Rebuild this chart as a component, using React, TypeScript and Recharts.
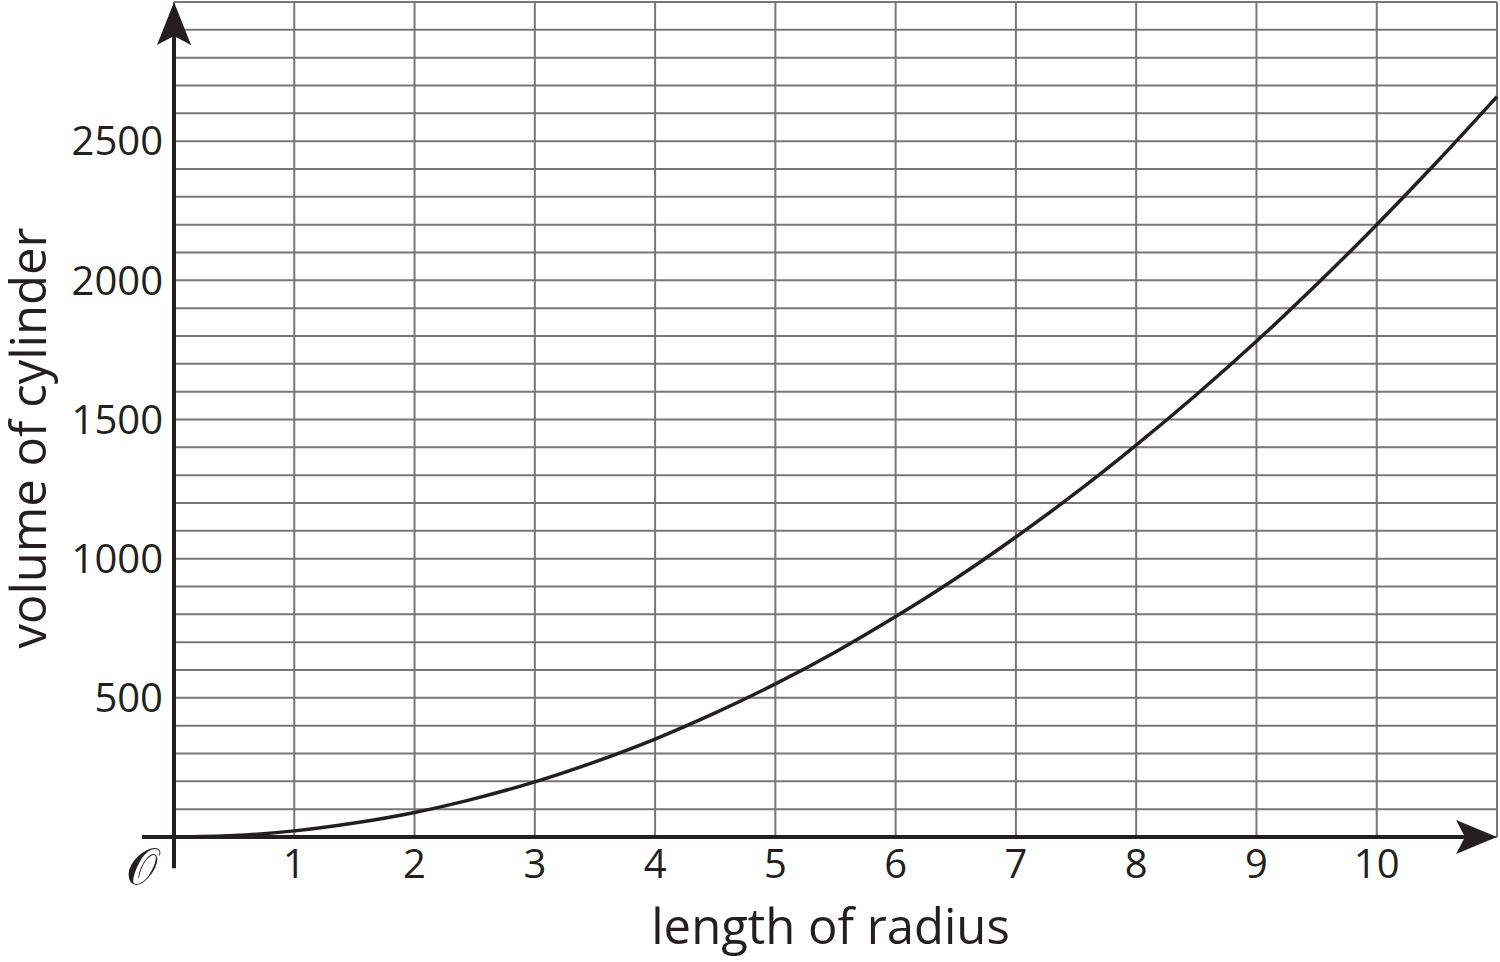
import React from 'react';
import {
  LineChart,
  Line,
  XAxis,
  YAxis,
  CartesianGrid,
  ReferenceLine,
  ReferenceDot,
} from 'recharts';

// data
const radius = [0, 0.5, 1, 1.5, 2, 2.5, 3, 3.5, 4, 4.5, 5, 5.5, 6, 6.5, 7, 7.5, 8, 8.5, 9, 9.5, 10, 10.5, 11];
const volume = [0, 5, 22, 50, 88, 138, 198, 270, 352, 446, 550, 665, 792, 929, 1078, 1237, 1408, 1589, 1781, 1985, 2200, 2425, 2660];

const xTicks = [0, 1, 2, 3, 4, 5, 6, 7, 8, 9, 10, 11];
const xLabelled = [1, 2, 3, 4, 5, 6, 7, 8, 9, 10];
const yTicks = [
  0, 100, 200, 300, 400, 500, 600, 700, 800, 900, 1000, 1100, 1200, 1300, 1400, 1500,
  1600, 1700, 1800, 1900, 2000, 2100, 2200, 2300, 2400, 2500, 2600, 2700, 2800, 2900, 3000,
];
const yLabelled = [500, 1000, 1500, 2000, 2500];

const xTitle = 'length of radius';
const yTitle = 'volume of cylinder';
const originLabel = '𝒪';

const data = radius.map((r, i) => ({ r, v: volume[i] }));

const INK = '#231f20';
const GRID = '#777777';
const FONT = '"Open Sans", sans-serif';

const XTick = (props: any) => {
  const { x, y, payload } = props;
  const v = payload.value;
  if (v === 0) {
    return (
      <text x={x - 32} y={y + 34} textAnchor="middle" fill={INK} fontFamily={'"DejaVu Serif", serif'} fontSize={50}>
        {originLabel}
      </text>
    );
  }
  if (!xLabelled.includes(v)) return null;
  return (
    <text x={x} y={y} dy="0.71em" textAnchor="middle" fill={INK} fontFamily={FONT} fontSize={40}>
      {String(v)}
    </text>
  );
};

const YTick = (props: any) => {
  const { x, y, payload } = props;
  const v = payload.value;
  if (!yLabelled.includes(v)) return null;
  return (
    <text x={x} y={y} dy="0.355em" textAnchor="end" fill={INK} fontFamily={FONT} fontSize={40}>
      {String(v)}
    </text>
  );
};

const UpArrow = (props: any) => {
  const { cx, cy } = props;
  return (
    <polygon
      points={`${cx},${cy} ${cx + 17},${cy + 43} ${cx},${cy + 34} ${cx - 17},${cy + 43}`}
      fill={INK}
    />
  );
};

const RightArrow = (props: any) => {
  const { cx, cy } = props;
  return (
    <polygon
      points={`${cx},${cy} ${cx - 41},${cy - 17} ${cx - 32},${cy} ${cx - 41},${cy + 17}`}
      fill={INK}
    />
  );
};

export default function App() {
  return (
    <div style={{ position: 'absolute', left: 0, top: 0, width: 1500, height: 962, background: '#fff' }}>
      <LineChart
        width={1500}
        height={962}
        data={data}
        margin={{ top: 2, right: 3, bottom: 0, left: 0 }}
      >
        <CartesianGrid stroke={GRID} strokeWidth={2} />
        <XAxis
          dataKey="r"
          type="number"
          domain={[0, 11]}
          ticks={xTicks}
          interval={0}
          height={125}
          axisLine={false}
          tickLine={false}
          tickSize={0}
          tickMargin={13}
          tick={<XTick />}
          label={{
            content: (p: any) => {
              const vb = p.viewBox;
              return (
                <text
                  x={vb.x + vb.width / 2 - 5}
                  y={944}
                  textAnchor="middle"
                  fill={INK}
                  fontFamily={FONT}
                  fontSize={49}
                >
                  {xTitle}
                </text>
              );
            },
          }}
        />
        <YAxis
          type="number"
          domain={[0, 3000]}
          ticks={yTicks}
          interval={0}
          width={174}
          axisLine={false}
          tickLine={false}
          tickSize={0}
          tickMargin={11}
          tick={<YTick />}
          label={{
            content: () => (
              <text
                x={46}
                y={438}
                transform="rotate(-90 46 438)"
                textAnchor="middle"
                fill={INK}
                fontFamily={FONT}
                fontSize={49}
              >
                {yTitle}
              </text>
            ),
          }}
        />
        <ReferenceLine
          segment={[{ x: 0, y: -112 }, { x: 0, y: 2900 }]}
          stroke={INK}
          strokeWidth={4}
          ifOverflow="visible"
        />
        <ReferenceLine
          segment={[{ x: -0.266, y: 0 }, { x: 10.8, y: 0 }]}
          stroke={INK}
          strokeWidth={4}
          ifOverflow="visible"
        />
        <Line
          type="monotone"
          dataKey="v"
          stroke={INK}
          strokeWidth={3.5}
          dot={false}
          isAnimationActive={false}
        />
        <ReferenceDot x={0} y={3000} ifOverflow="visible" shape={<UpArrow />} />
        <ReferenceDot x={11} y={0} ifOverflow="visible" shape={<RightArrow />} />
      </LineChart>
    </div>
  );
}
